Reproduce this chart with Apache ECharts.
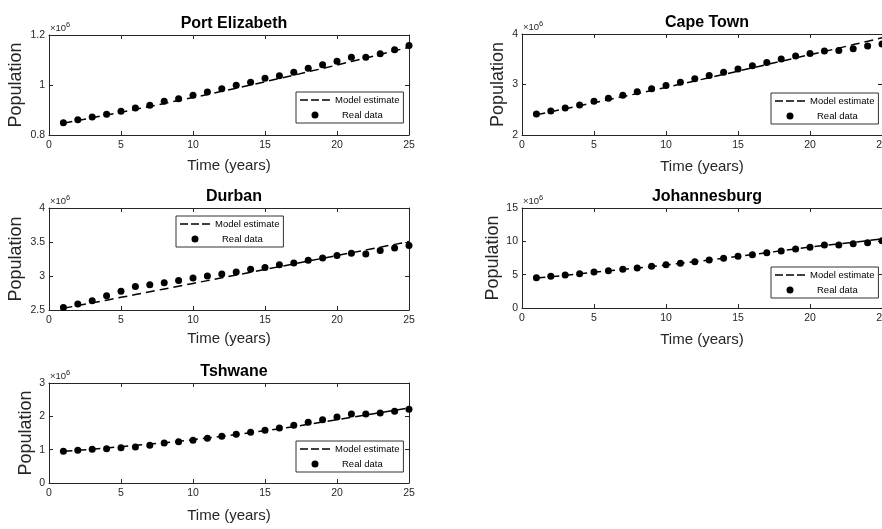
<!DOCTYPE html>
<html>
<head>
<meta charset="utf-8">
<script src="https://cdn.jsdelivr.net/npm/echarts/dist/echarts.min.js"></script>
<style>
html,body{margin:0;padding:0;background:#fff}
#chart{width:882px;height:529px}
</style>
</head>
<body>
<div id="chart"></div>
<script>
// years 1..25, populations in units of 10^6
let years = [1,2,3,4,5,6,7,8,9,10,11,12,13,14,15,16,17,18,19,20,21,22,23,24,25]

let peReal  = [0.849,0.861,0.872,0.883,0.895,0.908,0.919,0.935,0.945,0.959,0.972,0.985,0.999,1.011,1.027,1.037,1.051,1.067,1.081,1.095,1.111,1.111,1.125,1.141,1.158]
let peModel = [0.847,0.858,0.869,0.880,0.891,0.903,0.914,0.926,0.938,0.950,0.962,0.975,0.987,1.000,1.013,1.026,1.039,1.053,1.066,1.080,1.094,1.108,1.122,1.137,1.151]

let ctReal  = [2.417,2.477,2.536,2.596,2.669,2.728,2.788,2.854,2.914,2.980,3.046,3.113,3.179,3.245,3.305,3.371,3.437,3.503,3.563,3.616,3.662,3.675,3.709,3.762,3.800]
let ctModel = [2.400,2.460,2.520,2.580,2.640,2.700,2.760,2.820,2.880,2.940,3.005,3.070,3.135,3.200,3.265,3.330,3.395,3.460,3.525,3.590,3.655,3.720,3.790,3.855,3.925]

let duReal  = [2.535,2.590,2.635,2.710,2.775,2.845,2.870,2.900,2.935,2.970,3.000,3.030,3.060,3.100,3.125,3.165,3.190,3.230,3.265,3.300,3.335,3.325,3.375,3.410,3.450]
let duModel = [2.525,2.565,2.605,2.645,2.686,2.727,2.768,2.809,2.850,2.891,2.932,2.973,3.014,3.055,3.096,3.137,3.178,3.219,3.260,3.301,3.342,3.383,3.424,3.465,3.506]

let joReal  = [4.55,4.75,4.95,5.15,5.40,5.60,5.80,6.00,6.25,6.50,6.70,6.95,7.20,7.45,7.75,8.00,8.30,8.55,8.85,9.10,9.45,9.45,9.65,9.80,10.10]
let joModel = [4.50,4.70,4.90,5.12,5.35,5.57,5.78,6.00,6.22,6.45,6.70,6.95,7.20,7.47,7.75,8.02,8.30,8.58,8.86,9.15,9.38,9.62,9.86,10.10,10.35]

let tsReal  = [0.95,0.98,1.01,1.03,1.06,1.08,1.13,1.20,1.24,1.28,1.34,1.40,1.46,1.52,1.58,1.65,1.73,1.82,1.90,1.98,2.07,2.07,2.10,2.15,2.21]
let tsModel = [0.95,0.98,1.01,1.05,1.09,1.13,1.17,1.21,1.25,1.30,1.35,1.40,1.45,1.51,1.57,1.63,1.69,1.76,1.83,1.90,1.97,2.04,2.11,2.18,2.25]

let panels = [
  {title:'Port Elizabeth', real:peReal, model:peModel, yMin:0.8, yMax:1.2, yStep:0.2, left:49,  top:35,  height:100, lg:[296,92],  popGap:24, timeGap:23},
  {title:'Cape Town',      real:ctReal, model:ctModel, yMin:2,   yMax:4,   yStep:1,   left:522, top:34,  height:101, lg:[771,93],  popGap:15, timeGap:24},
  {title:'Durban',         real:duReal, model:duModel, yMin:2.5, yMax:4,   yStep:0.5, left:49,  top:208, height:102, lg:[176,216], popGap:24, timeGap:21},
  {title:'Johannesburg',   real:joReal, model:joModel, yMin:0,   yMax:15,  yStep:5,   left:522, top:208, height:100, lg:[771,267], popGap:20, timeGap:24},
  {title:'Tshwane',        real:tsReal, model:tsModel, yMin:0,   yMax:3,   yStep:1,   left:49,  top:383, height:100, lg:[296,441], popGap:14, timeGap:25}
]

let font = 'Liberation Sans, Arial, sans-serif'
let axisColor = '#262626'
// dashed legend sample: three short bars
let dashIcon = 'path://M0,0h8v1.6h-8z M11,0h8v1.6h-8z M22,0h8v1.6h-8z'

function pairs(vals) {
  let out = []
  for (let i = 0; i < years.length; i++) out.push([years[i], vals[i]])
  return out
}

let option = {
  backgroundColor:'#fff',
  animation:false,
  textStyle:{fontFamily:font},
  title:[], grid:[], xAxis:[], yAxis:[], legend:[], series:[]
}

panels.forEach((p,i)=>{
  let w = 360
  option.grid.push({left:p.left, top:p.top, width:w, height:p.height, outerBoundsMode:'none', containLabel:false})
  option.title.push({
    text:p.title, left:p.left + w/2, top:p.top - 24, textAlign:'center',
    textStyle:{fontSize:16, fontWeight:'bold', color:'#000', fontFamily:font}
  })
  let tick = {show:true, inside:true, length:4, lineStyle:{color:axisColor}}
  let line = {show:true, onZero:false, lineStyle:{color:axisColor, width:1}}
  // bottom + top x axes
  option.xAxis.push({
    type:'value', gridIndex:i, min:0, max:25, interval:5, position:'bottom',
    axisLine:line, axisTick:tick, splitLine:{show:false},
    axisLabel:{color:axisColor, fontSize:10.5, margin:5, showMaxLabel:true, showMinLabel:true, fontFamily:font},
    name:'Time (years)', nameLocation:'middle', nameGap:p.timeGap,
    nameTextStyle:{fontSize:15, color:'#262626', fontFamily:font}
  })
  option.xAxis.push({
    type:'value', gridIndex:i, min:0, max:25, interval:5, position:'top',
    axisLine:line, axisTick:tick, axisLabel:{show:false}, splitLine:{show:false}
  })
  // left + right y axes
  option.yAxis.push({
    type:'value', gridIndex:i, min:p.yMin, max:p.yMax, interval:p.yStep, position:'left',
    axisLine:line, axisTick:tick, splitLine:{show:false},
    axisLabel:{color:axisColor, fontSize:10.5, margin:4, showMaxLabel:true, showMinLabel:true, fontFamily:font},
    name:'Population', nameLocation:'middle', nameGap:p.popGap, nameRotate:90,
    nameTextStyle:{fontSize:18, color:'#262626', fontFamily:font, verticalAlign:'bottom'}
  })
  option.yAxis.push({
    type:'value', gridIndex:i, min:p.yMin, max:p.yMax, interval:p.yStep, position:'right',
    axisLine:line, axisTick:tick, axisLabel:{show:false}, splitLine:{show:false}
  })
  option.legend.push({
    left:p.lg[0], top:p.lg[1], orient:'vertical',
    itemWidth:30, itemHeight:7, itemGap:5, padding:[3,4,3,4],
    borderColor:'#333', borderWidth:1, backgroundColor:'#fff',
    textStyle:{fontSize:9.5, color:'#000', fontFamily:font},
    data:[
      {name:'Model estimate', icon:dashIcon, itemStyle:{color:'#000', opacity:1}},
      {name:'Real data', icon:'circle', itemStyle:{color:'#000', opacity:1}, textStyle:{padding:[0,0,0,7]}}
    ],
    selectedMode:false
  })
  option.series.push({
    name:'Model estimate', type:'line', xAxisIndex:2*i, yAxisIndex:2*i,
    data:pairs(p.model), symbol:'none', showSymbol:false,
    lineStyle:{color:'#000', width:1.5, type:[9,5]}, itemStyle:{color:'#000'}, z:2
  })
  option.series.push({
    name:'Real data', type:'scatter', xAxisIndex:2*i, yAxisIndex:2*i,
    data:pairs(p.real), symbol:'circle', symbolSize:7,
    itemStyle:{color:'#000', opacity:1}, z:3
  })
})

// x10^6 multiplier labels above each y axis
option.graphic = panels.map(p=>({
  type:'text', left:p.left + 1, top:p.top - 14,
  style:{
    text:'{a|×10}{b|6}', fontFamily:font,
    rich:{a:{fontSize:9.5, fill:'#262626', fontFamily:font}, b:{fontSize:7.5, fill:'#262626', fontFamily:font, padding:[0,0,7,0]}}
  }
}))

let chart = echarts.init(document.getElementById('chart'))
chart.setOption(option)
</script>
</body>
</html>
